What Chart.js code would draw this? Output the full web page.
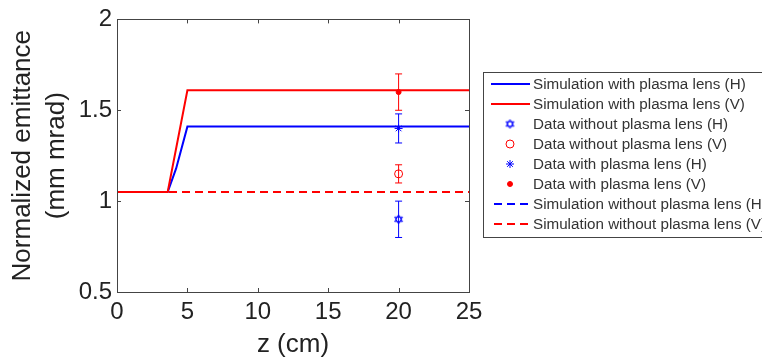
<!DOCTYPE html>
<html>
<head>
<meta charset="utf-8">
<script src="https://cdn.jsdelivr.net/npm/chart.js@4.4.1/dist/chart.umd.min.js"></script>
<style>
  html, body { margin: 0; padding: 0; background: #fff; }
  #wrap { width: 762px; height: 362px; }
</style>
</head>
<body>
<div id="wrap"><canvas id="emitChart"></canvas></div>
<script>
// simulated emittance along z (cm)
const simZH = [0, 3.6, 4.2, 5, 25];
const simH = [1.05, 1.05, 1.18, 1.41, 1.41];
const simZV = [0, 3.6, 5, 25];
const simV = [1.05, 1.05, 1.61, 1.61];
const noLensZ = [0, 25];
const noLensH = [1.05, 1.05];
const noLensV = [1.05, 1.05];

// measured points at z = 20 cm
const dataZ = [20];
const noLensDataH = [0.9];
const noLensErrH = [0.1];
const noLensDataV = [1.15];
const noLensErrV = [0.05];
const lensDataH = [1.4];
const lensErrH = [0.08];
const lensDataV = [1.6];
const lensErrV = [0.1];

const xTicks = [0, 5, 10, 15, 20, 25];
const yTicks = [0.5, 1, 1.5, 2];

const BLUE = '#0000ff';
const RED = '#ff0000';
const FONT = '"Liberation Sans", Arial, sans-serif';

const pts = (xs, ys) => xs.map((x, i) => ({ x: x, y: ys[i] }));

// hexagram marker (matlab 'h')
function hexagram(color, size) {
    const c = document.createElement('canvas');
    c.width = size; c.height = size;
    const g = c.getContext('2d');
    const r = size / 2 - 1, cx = size / 2, cy = size / 2;
    g.strokeStyle = color;
    g.lineWidth = 1;
    [-Math.PI / 2, Math.PI / 2].forEach(a0 => {
        g.beginPath();
        for (let k = 0; k < 3; k++) {
            const a = a0 + k * 2 * Math.PI / 3;
            const px = cx + r * Math.cos(a), py = cy + r * Math.sin(a);
            if (k === 0) g.moveTo(px, py); else g.lineTo(px, py);
        }
        g.closePath();
        g.stroke();
    });
    return c;
}
const hexBlue = hexagram(BLUE, 11);

const simLine = (label, xs, ys, color, dash) => ({
    label: label,
    data: pts(xs, ys),
    showLine: true,
    borderColor: color,
    backgroundColor: color,
    borderWidth: 2,
    borderDash: dash || [],
    pointRadius: 0,
    pointHoverRadius: 0,
    tension: 0
});

const marker = (label, ys, errs, color, style, radius, fill) => ({
    label: label,
    data: pts(dataZ, ys),
    errors: errs,
    showLine: false,
    borderColor: color,
    backgroundColor: fill,
    pointStyle: style,
    pointRadius: radius,
    pointBorderWidth: 1
});

const datasets = [
    simLine('Simulation with plasma lens (H)', simZH, simH, BLUE),
    simLine('Simulation with plasma lens (V)', simZV, simV, RED),
    marker('Data without plasma lens (H)', noLensDataH, noLensErrH, BLUE, hexBlue, 5, BLUE),
    marker('Data without plasma lens (V)', noLensDataV, noLensErrV, RED, 'circle', 4, 'rgba(0,0,0,0)'),
    marker('Data with plasma lens (H)', lensDataH, lensErrH, BLUE, 'star', 4, BLUE),
    marker('Data with plasma lens (V)', lensDataV, lensErrV, RED, 'circle', 2.5, RED),
    simLine('Simulation without plasma lens (H)', noLensZ, noLensH, BLUE, [8, 5]),
    simLine('Simulation without plasma lens (V)', noLensZ, noLensV, RED, [8, 5])
];
// lower order is painted last: markers on top, red over blue
const drawOrder = [5, 4, 3, 2, 1, 0, 7, 6];
datasets.forEach((d, i) => { d.order = drawOrder[i]; });

const errorBars = {
    id: 'errorBars',
    afterDatasetsDraw(chart) {
        const ctx = chart.ctx, xs = chart.scales.x, ys = chart.scales.y;
        ctx.save();
        chart.data.datasets.forEach(ds => {
            if (!ds.errors) return;
            ds.data.forEach((p, i) => {
                const px = xs.getPixelForValue(p.x);
                const top = ys.getPixelForValue(p.y + ds.errors[i]);
                const bot = ys.getPixelForValue(p.y - ds.errors[i]);
                ctx.strokeStyle = ds.borderColor;
                ctx.lineWidth = 1;
                ctx.beginPath();
                ctx.moveTo(px, top); ctx.lineTo(px, bot);
                ctx.moveTo(px - 3.5, top); ctx.lineTo(px + 3.5, top);
                ctx.moveTo(px - 3.5, bot); ctx.lineTo(px + 3.5, bot);
                ctx.stroke();
            });
        });
        ctx.restore();
    }
};

// box around plot with inward ticks
const frame = {
    id: 'frame',
    afterDraw(chart) {
        const ctx = chart.ctx, a = chart.chartArea;
        const xs = chart.scales.x, ys = chart.scales.y;
        const L = 4;
        ctx.save();
        ctx.strokeStyle = '#444';
        ctx.lineWidth = 1;
        ctx.strokeRect(Math.round(a.left) + 0.5, Math.round(a.top) + 0.5,
            Math.round(a.right - a.left), Math.round(a.bottom - a.top));
        ctx.beginPath();
        xTicks.forEach(v => {
            const px = Math.round(xs.getPixelForValue(v)) + 0.5;
            ctx.moveTo(px, a.bottom); ctx.lineTo(px, a.bottom - L);
            ctx.moveTo(px, a.top); ctx.lineTo(px, a.top + L);
        });
        yTicks.forEach(v => {
            const py = Math.round(ys.getPixelForValue(v)) + 0.5;
            ctx.moveTo(a.left, py); ctx.lineTo(a.left + L, py);
            ctx.moveTo(a.right, py); ctx.lineTo(a.right - L, py);
        });
        ctx.stroke();
        ctx.restore();
    }
};

// legend box to the right of the plot (clipped by the canvas edge like the original)
const sideLegend = {
    id: 'sideLegend',
    afterDraw(chart) {
        const ctx = chart.ctx;
        const bx = 483, by = 72, rowH = 20;
        ctx.save();
        ctx.fillStyle = '#fff';
        ctx.fillRect(bx, by, 300, 165);
        ctx.strokeStyle = '#444';
        ctx.lineWidth = 1;
        ctx.strokeRect(bx + 0.5, by + 0.5, 300, 165);
        ctx.font = '15.2px ' + FONT;
        ctx.textBaseline = 'middle';
        chart.data.datasets.forEach((ds, i) => {
            const cy = by + 12 + i * rowH;
            if (ds.showLine) {
                ctx.strokeStyle = ds.borderColor;
                ctx.lineWidth = 2;
                ctx.setLineDash(ds.borderDash);
                ctx.beginPath();
                ctx.moveTo(ds.borderDash.length ? 494 : 491, cy);
                ctx.lineTo(530, cy);
                ctx.stroke();
                ctx.setLineDash([]);
            } else {
                ctx.strokeStyle = ds.borderColor;
                ctx.fillStyle = ds.backgroundColor;
                ctx.lineWidth = 1;
                Chart.helpers.drawPoint(ctx, {
                    pointStyle: ds.pointStyle,
                    radius: ds.pointRadius,
                    rotation: 0,
                    borderWidth: 1
                }, 510, cy);
            }
            ctx.fillStyle = '#333';
            ctx.fillText(ds.label, 533, cy + 1);
        });
        ctx.restore();
    }
};

new Chart(document.getElementById('emitChart'), {
    type: 'scatter',
    data: { datasets: datasets },
    options: {
        responsive: true,
        maintainAspectRatio: false,
        animation: false,
        layout: { padding: { left: 0, top: 16, right: 293, bottom: 0 } },
        plugins: { legend: { display: false }, tooltip: { enabled: false } },
        scales: {
            x: {
                type: 'linear',
                min: 0, max: 25,
                afterBuildTicks: s => { s.ticks = xTicks.map(v => ({ value: v })); },
                afterFit: s => { s.height = 70; },
                grid: { display: false, drawTicks: false },
                border: { display: false },
                ticks: { color: '#222', padding: 6, font: { family: FONT, size: 24 },
                    callback: v => String(v) },
                title: {
                    display: true, text: 'z (cm)', color: '#222',
                    font: { family: FONT, size: 26, lineHeight: 1.2 },
                    padding: { top: 0, bottom: 2 }
                }
            },
            y: {
                type: 'linear',
                min: 0.5, max: 2,
                afterBuildTicks: s => { s.ticks = yTicks.map(v => ({ value: v })); },
                afterFit: s => { s.width = 117; },
                grid: { display: false, drawTicks: false },
                border: { display: false },
                ticks: { color: '#222', padding: 5, font: { family: FONT, size: 24 },
                    callback: v => String(v) },
                title: {
                    display: true, text: ['Normalized emittance', '(mm mrad)'], color: '#222',
                    font: { family: FONT, size: 26, lineHeight: 1.3 },
                    padding: { top: 6, bottom: 0 }
                }
            }
        }
    },
    plugins: [errorBars, frame, sideLegend]
});
</script>
</body>
</html>
